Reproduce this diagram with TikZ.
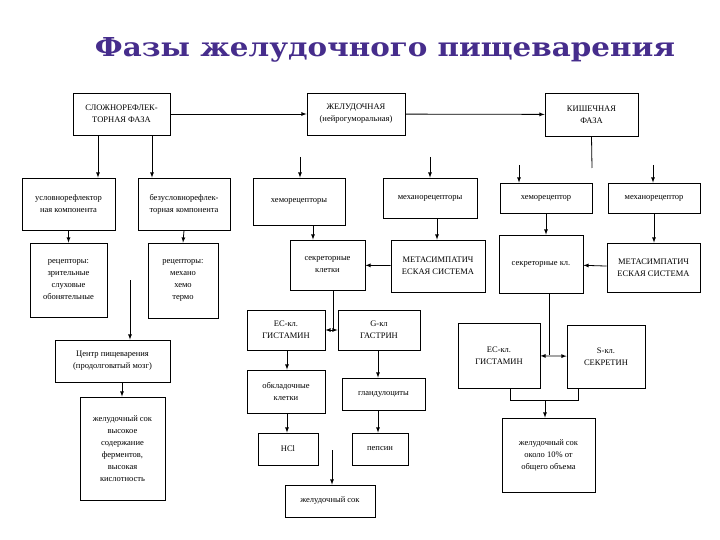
\documentclass[tikz,border=0pt]{standalone}
\usepackage{fontspec}
\setmainfont{Liberation Serif}
\newfontfamily\titlefont{DejaVu Serif}
\usetikzlibrary{arrows}

\tikzset{
  box/.style={draw, align=center, inner sep=1pt, font=\fontsize{8.5}{12}\selectfont},
  arr/.style={-latex, thick},
  ln/.style={thick}
}

\begin{document}
\begin{tikzpicture}[x=1pt,y=-1pt, line width=0.8pt]
\useasboundingbox (0,0) rectangle (720,540);

\node (title) [inner sep=0pt, text={rgb,255:red,70;green,45;blue,140}] at (385,50) {\resizebox{580pt}{19pt}{\titlefont\bfseries Фазы желудочного пищеварения}};

% phases
\node (ref) [box, minimum width=97, minimum height=42] at (121.5,114) {СЛОЖНОРЕФЛЕК-\\ТОРНАЯ ФАЗА};
\node (gast) [box, minimum width=98, minimum height=42] at (356,114) {ЖЕЛУДОЧНАЯ\\(нейрогуморальная)};
\node (int) [box, minimum width=93, minimum height=43] at (591.5,114.5) {КИШЕЧНАЯ\\ФАЗА};
\draw [arr] (ref) -- (gast);
\draw [arr] (gast) -- (int);

% left branch
\node (cond) [box, minimum width=93, minimum height=52] at (68.5,204) {условнорефлектор\\ная компонента};
\node (uncond) [box, minimum width=92, minimum height=52] at (184,204) {безусловнорефлек-\\торная компонента};
\node (rec1) [box, minimum width=77, minimum height=74] at (68.5,280) {рецепторы:\\зрительные\\слуховые\\обонятельные};
\node (rec2) [box, minimum width=70, minimum height=75] at (183,280.5) {рецепторы:\\механо\\хемо\\термо};
\node (centre) [box, minimum width=115, minimum height=42] at (112.5,361) {Центр пищеварения\\(продолговатый мозг)};
\node (juice1) [box, minimum width=85, minimum height=103] at (122.5,448.5) {желудочный сок\\высокое\\содержание\\ферментов,\\высокая\\кислотность};
\coordinate (c1) at (130,280);
\draw [arr] (ref.south -| 98,0) -- (cond.north -| 98,0);
\draw [arr] (ref.south -| 152,0) -- (uncond.north -| 152,0);
\draw [arr] (cond.south) -- (rec1.north);
\draw [arr] (uncond.south) -- (rec2.north);
\draw [arr] (c1) -- (centre.north -| c1);
\draw [arr] (centre.south -| 122,0) -- (juice1.north -| 122,0);

% gastric branch
\coordinate (g1) at (300,157);
\coordinate (g2) at (430,157);
\node (chemo1) [box, minimum width=92, minimum height=47] at (299,201.5) {хеморецепторы};
\node (mech1) [box, minimum width=94, minimum height=40] at (430,198) {механорецепторы};
\node (sec1) [box, minimum width=75, minimum height=50] at (327.5,265) {секреторные\\клетки};
\node (meta1) [box, minimum width=94, minimum height=52] at (438,266) {МЕТАСИМПАТИЧ\\ЕСКАЯ СИСТЕМА};
\node (ec1) [box, minimum width=78, minimum height=40] at (286,330) {ЕС-кл.\\ГИСТАМИН};
\node (gcl) [box, minimum width=82, minimum height=40] at (379,330) {G-кл\\ГАСТРИН};
\node (parie) [box, minimum width=78, minimum height=43] at (286,391.5) {обкладочные\\клетки};
\node (gland) [box, minimum width=83, minimum height=32] at (383.5,394) {гландулоциты};
\node (hcl) [box, minimum width=60, minimum height=32] at (288,449) {HCl};
\node (peps) [box, minimum width=56, minimum height=32] at (380,449) {пепсин};
\node (juice2) [box, minimum width=90, minimum height=32] at (330,501) {желудочный сок};
\draw [arr] (g1) -- (chemo1.north -| g1);
\draw [arr] (g2) -- (mech1.north -| g2);
\draw [arr] (chemo1.south -| 313,0) -- (sec1.north -| 313,0);
\draw [arr] (mech1.south -| 437,0) -- (meta1.north -| 437,0);
\draw [arr] (meta1) -- (sec1);
\draw [latex-latex, thick] (ec1) -- (gcl);
\draw [ln] (sec1.south -| 333,0) -- (333,330);
\draw [arr] (ec1.south -| 287,0) -- (parie.north -| 287,0);
\draw [arr] (gcl.south -| 378,0) -- (gland.north -| 378,0);
\draw [arr] (parie.south -| 287,0) -- (hcl.north -| 287,0);
\draw [arr] (gland.south -| 378,0) -- (peps.north -| 378,0);
\draw [arr] (332,450) -- (juice2.north -| 332,0);

% intestinal branch
\coordinate (i1) at (519,165);
\coordinate (i2) at (653,165);
\node (chemo2) [box, minimum width=92, minimum height=30] at (546,198) {хеморецептор};
\node (mech2) [box, minimum width=92, minimum height=30] at (654,198) {механорецептор};
\node (sec2) [box, minimum width=84, minimum height=58] at (541,264) {секреторные кл.};
\node (meta2) [box, minimum width=93, minimum height=49] at (653.5,267.5) {МЕТАСИМПАТИЧ\\ЕСКАЯ СИСТЕМА};
\node (ec2) [box, minimum width=82, minimum height=65] at (499,355.5) {ЕС-кл.\\ГИСТАМИН};
\node (scl) [box, minimum width=78, minimum height=63] at (606,356.5) {S-кл.\\СЕКРЕТИН};
\node (juice3) [box, minimum width=93, minimum height=74] at (548.5,455) {желудочный сок\\около 10\% от\\общего объема};
\draw [ln] (int.south) -- (592,168);
\draw [arr] (i1) -- (chemo2.north -| i1);
\draw [arr] (i2) -- (mech2.north -| i2);
\draw [arr] (chemo2.south) -- (sec2.north -| chemo2.south);
\draw [arr] (mech2.south) -- (meta2.north -| mech2.south);
\draw [arr] (meta2) -- (sec2);
\draw [ln] (sec2.south -| 549,0) -- (549,355);
\draw [latex-latex, thick] (ec2) -- (scl);
\draw [ln] (ec2.south -| 510,0) -- (510,400) -- (578,400) -- (scl.south -| 578,0);
\draw [arr] (545,400) -- (juice3.north -| 545,0);
\end{tikzpicture}
\end{document}
